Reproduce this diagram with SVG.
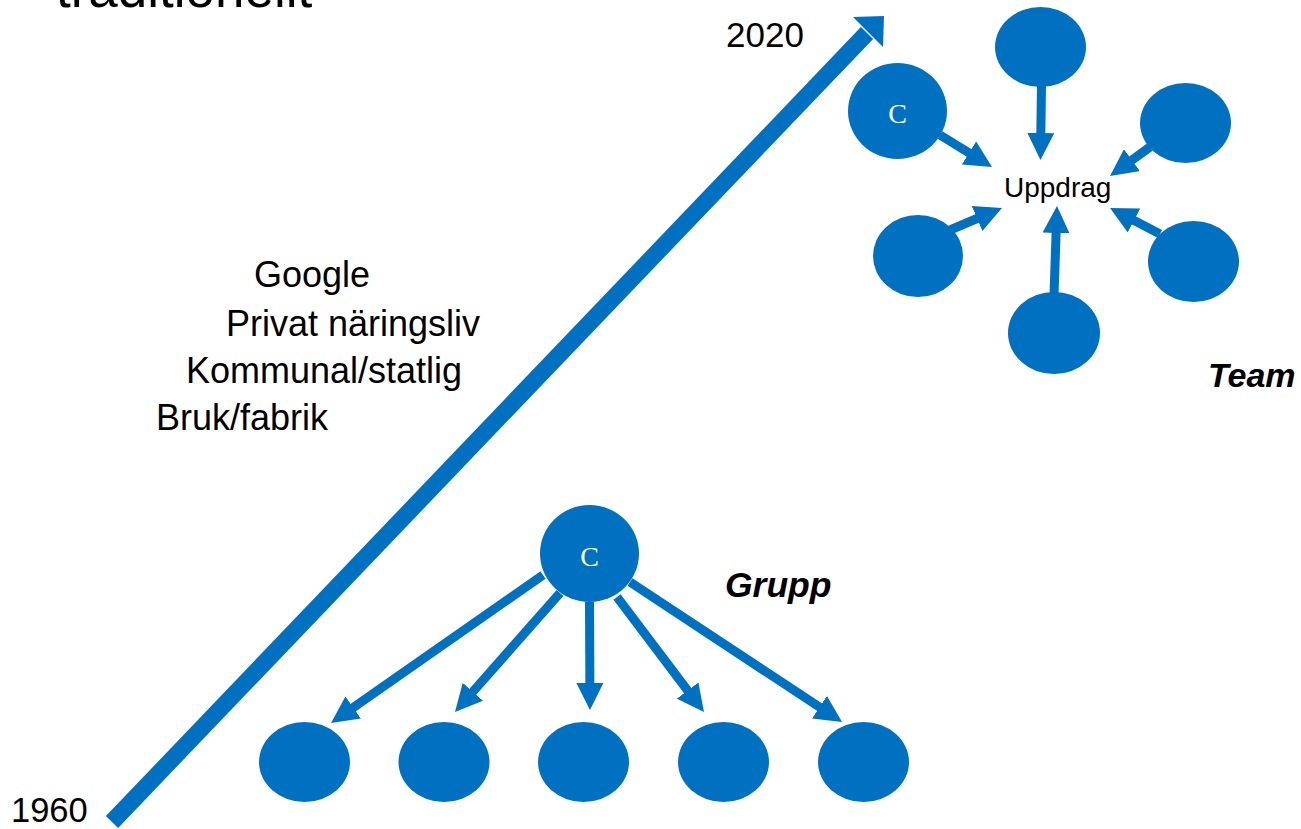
<svg xmlns="http://www.w3.org/2000/svg" width="1301" height="829" viewBox="0 0 1301 829">
<style>
.node{fill:#0070C0}
.conn{stroke:#0070C0;stroke-width:9;fill:none;marker-end:url(#ah)}
.lbl{font-family:"Liberation Sans",Arial,sans-serif;fill:#000}
.c{font-family:"Liberation Serif","Times New Roman",serif;fill:#fff;font-size:28px;text-anchor:middle}
.bi{font-weight:bold;font-style:italic}
.era{font-size:36px}
</style>
<defs>
<marker id="ah" markerUnits="userSpaceOnUse" markerWidth="27" markerHeight="27" viewBox="0 0 27 27" refX="9" refY="13.5" orient="auto">
<path d="M0,0 L27,13.5 L0,27 z" fill="#0070C0"/>
</marker>
</defs>
<rect width="1301" height="829" fill="#fff"/>
<text class="lbl" x="56" y="7" font-size="53">traditionellt</text>
<g id="timeline">
<line x1="112" y1="822" x2="867" y2="33" stroke="#0070C0" stroke-width="17"/>
<polygon points="884,16 853,17 883,47" fill="#0070C0"/>
</g>
<text class="lbl" x="726" y="47" font-size="35">2020</text>
<text class="lbl" x="11" y="822" font-size="34.5">1960</text>
<g id="labels">
<text class="lbl era" x="254" y="287">Google</text>
<text class="lbl era" x="226" y="336">Privat näringsliv</text>
<text class="lbl era" x="186" y="383">Kommunal/statlig</text>
<text class="lbl era" x="156" y="430">Bruk/fabrik</text>
</g>
<g id="connectors">
<line class="conn" x1="940" y1="135" x2="976.7" y2="157.6"/>
<line class="conn" x1="1041.5" y1="86" x2="1040.7" y2="142"/>
<line class="conn" x1="1150" y1="147" x2="1124.6" y2="165.4"/>
<line class="conn" x1="950" y1="230" x2="985.4" y2="215"/>
<line class="conn" x1="1054" y1="295" x2="1056.4" y2="224"/>
<line class="conn" x1="1160" y1="234" x2="1126" y2="216.3"/>
<line class="conn" x1="543" y1="575" x2="345.8" y2="712.7"/>
<line class="conn" x1="560" y1="593" x2="466.9" y2="698.5"/>
<line class="conn" x1="589.5" y1="602" x2="589.9" y2="692"/>
<line class="conn" x1="617" y1="597" x2="693.1" y2="697.7"/>
<line class="conn" x1="630" y1="582" x2="827" y2="712.1"/>
</g>
<g id="team-c"><ellipse class="node" cx="897.5" cy="111" rx="49.5" ry="48"/><text class="c" x="897.5" y="123">C</text></g>
<g id="team-top"><ellipse class="node" cx="1040.5" cy="47" rx="45.5" ry="40"/></g>
<g id="team-right-top"><ellipse class="node" cx="1185.5" cy="123" rx="45.5" ry="40"/></g>
<g id="team-left"><ellipse class="node" cx="918" cy="256" rx="45" ry="41"/></g>
<g id="team-bottom"><ellipse class="node" cx="1054" cy="333" rx="46" ry="41"/></g>
<g id="team-right"><ellipse class="node" cx="1193.5" cy="261.5" rx="45.5" ry="40.5"/></g>
<g id="uppdrag"><text class="lbl" x="1004" y="197" font-size="28">Uppdrag</text></g>
<text class="lbl bi" x="1208" y="387" font-size="34">Team</text>
<g id="grupp-c"><ellipse class="node" cx="589.5" cy="553.5" rx="49.5" ry="48.5"/><text class="c" x="589.5" y="566">C</text></g>
<text class="lbl bi" x="725" y="597" font-size="35.5">Grupp</text>
<g id="g1"><ellipse class="node" cx="304.5" cy="762" rx="45.5" ry="40"/></g>
<g id="g2"><ellipse class="node" cx="444" cy="762" rx="45.5" ry="40"/></g>
<g id="g3"><ellipse class="node" cx="583.5" cy="762" rx="45.5" ry="40"/></g>
<g id="g4"><ellipse class="node" cx="723.5" cy="762" rx="45.5" ry="40"/></g>
<g id="g5"><ellipse class="node" cx="863.5" cy="762" rx="45.5" ry="40"/></g>
</svg>
